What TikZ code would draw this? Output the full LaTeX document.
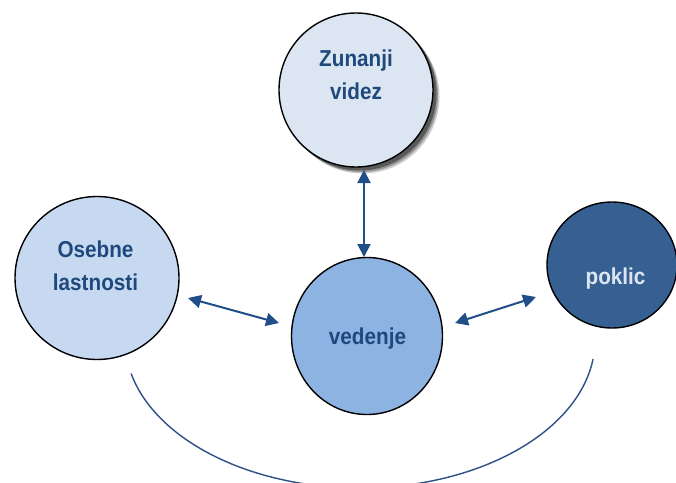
\documentclass[tikz,border=0pt]{standalone}
\usepackage{graphicx}
\usepackage{fontspec}
\setmainfont{Liberation Sans}
\usetikzlibrary{arrows.meta,shapes.geometric}

\definecolor{palefill}{HTML}{DCE6F2}
\definecolor{lightfill}{HTML}{C6D9F1}
\definecolor{midfill}{HTML}{8DB3E2}
\definecolor{darkfill}{HTML}{376092}
\definecolor{labelblue}{HTML}{1F497D}
\definecolor{arrowblue}{HTML}{1F4E89}
\definecolor{arcblue}{HTML}{2C5087}

% slightly condensed label lines
\newcommand\narrowline[1]{\scalebox{0.9}[1]{#1}}

\tikzset{
  bubble/.style={ellipse, draw=black, line width=1.4pt, inner sep=0pt},
  bubbletext/.style={inner sep=0pt, align=center, text=labelblue,
    font=\fontsize{23}{33.5}\selectfont\bfseries},
  link/.style={draw=arrowblue, line width=2pt,
    {Triangle[length=13pt,width=13pt]}-{Triangle[length=13pt,width=13pt]}},
  arcline/.style={draw=arcblue, line width=1.4pt}
}

\begin{document}
\begin{tikzpicture}[x=1pt,y=-1pt]
\useasboundingbox (0,0) rectangle (676,482);

% soft shadow behind the upper circle
\fill[black!20] (362.5,96.5) circle[radius=77pt];
\fill[black!42] (361,95) circle[radius=77pt];
\fill[black!65] (359.5,93.5) circle[radius=77pt];

% circles
\node[bubble, fill=palefill, minimum width=154pt, minimum height=154pt] (videz) at (356,90) {};
\node[bubble, fill=lightfill, minimum width=164pt, minimum height=163pt] (osebne) at (97,278) {};
\node[bubble, fill=midfill, minimum width=151pt, minimum height=157pt] (vedenje) at (367,336) {};
\node[bubble, fill=darkfill, minimum width=130pt, minimum height=126pt] (poklic) at (612,265) {};

% labels
\node[bubbletext] (tvidez) at (356,75) {\narrowline{Zunanji}\\\narrowline{videz}};
\node[bubbletext] (tosebne) at (95.5,266) {\narrowline{Osebne}\\\narrowline{lastnosti}};
\node[bubbletext] (tvedenje) at (367.5,339) {\narrowline{vedenje}};
\node[bubbletext, text=palefill] (tpoklic) at (615.5,279) {\narrowline{poklic}};

% connector end points
\coordinate (vTop) at (364,170);
\coordinate (vBot) at (364,257);
\coordinate (lA) at (188,298);
\coordinate (lB) at (279,323);
\coordinate (rA) at (455,323);
\coordinate (rB) at (536,297);

% two-headed arrows
\draw[link] (vTop) -- (vBot);
\draw[link] (lA) -- (lB);
\draw[link] (rA) -- (rB);

% lower arc linking the outer circles
\draw[arcline] plot[domain=166.9:7.4, samples=90, smooth]
  ({360+235*cos(\x)}, {340+148*sin(\x)});
\end{tikzpicture}
\end{document}
